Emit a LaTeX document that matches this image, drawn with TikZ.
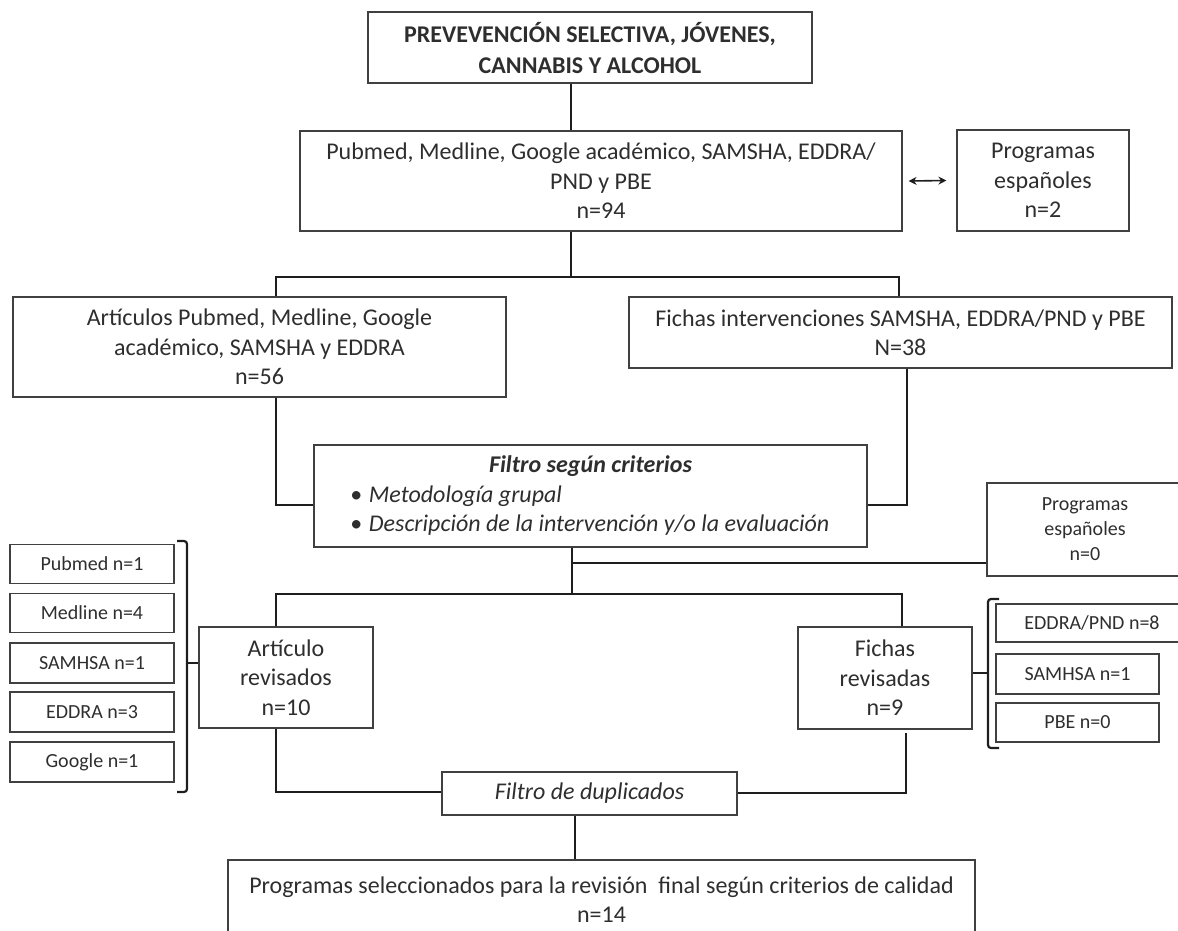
\documentclass[tikz,border=0pt]{standalone}
\usepackage{fontspec}
\setmainfont{Carlito}
\usetikzlibrary{arrows.meta}
\definecolor{txt}{HTML}{2E2E2E}
\definecolor{edge}{HTML}{404040}
\definecolor{lin}{HTML}{1E1E1E}
\begin{document}
\begin{tikzpicture}[x=1pt,y=-1pt,
  box/.style={draw=edge, line width=1.2pt, inner sep=0pt, align=center, text=txt, font=\fontsize{24}{29.5}\selectfont},
  sbox/.style={box, font=\fontsize{20}{25}\selectfont},
  conn/.style={draw=lin, line width=2.8pt},
  brk/.style={draw=lin, line width=2.2pt, rounded corners=3pt}]
\useasboundingbox (0,0) rectangle (1178,930);

% main boxes
\node[box, minimum width=444pt, minimum height=71pt, font=\fontsize{24}{31}\selectfont\bfseries] (title) at (590,47.5)
  {PREVEVENCIÓN SELECTIVA, JÓVENES,\\CANNABIS Y ALCOHOL};
\node[box, minimum width=602pt, minimum height=100pt] (src) at (601,181)
  {Pubmed, Medline, Google académico, SAMSHA, EDDRA/\\PND y PBE\\n=94};
\node[box, minimum width=172pt, minimum height=101pt] (esp2) at (1043,180.5)
  {Programas\\españoles\\n=2};
\node[box, minimum width=493pt, minimum height=100pt] (art) at (259.5,347)
  {Artículos Pubmed, Medline, Google\\académico, SAMSHA y EDDRA\\n=56};
\node[box, minimum width=543pt, minimum height=71pt] (fich) at (900.5,332.5)
  {Fichas intervenciones SAMSHA, EDDRA/PND y PBE\\N=38};
\node[box, minimum width=553pt, minimum height=102pt] (filt) at (590.5,496)
  {{\bfseries\itshape Filtro según criterios}\\
   \makebox[481pt][l]{\itshape •\hspace{7pt}Metodología grupal}\\
   \makebox[481pt][l]{\itshape •\hspace{7pt}Descripción de la intervención y/o la evaluación}};
\node[sbox, minimum width=196pt, minimum height=93pt] (esp0) at (1085,529.5)
  {Programas\\españoles\\n=0};
\node[box, minimum width=174pt, minimum height=101pt] (arev) at (286,677.5)
  {Artículo\\revisados\\n=10};
\node[box, minimum width=174pt, minimum height=102pt] (frev) at (885,678)
  {Fichas\\revisadas\\n=9};
\node[box, minimum width=295pt, minimum height=43pt, font=\fontsize{24}{29.5}\selectfont\itshape] (dup) at (589.5,793.5)
  {Filtro de duplicados};
\node[box, minimum width=747pt, minimum height=79pt] (final) at (601.5,899.5)
  {Programas seleccionados para la revisión\ \ final según criterios de calidad\\n=14};

% left sub boxes
\node[sbox, minimum width=164pt, minimum height=39pt] (pub) at (92,564) {Pubmed n=1};
\node[sbox, minimum width=164pt, minimum height=39pt] (med) at (92,613) {Medline n=4};
\node[sbox, minimum width=164pt, minimum height=40pt] (sam) at (92,663) {SAMHSA n=1};
\node[sbox, minimum width=164pt, minimum height=40pt] (edd) at (92,712) {EDDRA n=3};
\node[sbox, minimum width=164pt, minimum height=40pt] (goo) at (92,762) {Google n=1};

% right sub boxes
\node[sbox, minimum width=192pt, minimum height=38pt] (pnd) at (1092,623) {EDDRA/PND n=8};
\node[sbox, minimum width=163pt, minimum height=40pt] (sam2) at (1077.5,674) {SAMHSA n=1};
\node[sbox, minimum width=163pt, minimum height=39pt] (pbe) at (1077.5,722.5) {PBE n=0};

% arrow
\draw[lin, line width=1.6pt, {Stealth[length=8pt,width=8pt]}-{Stealth[length=8pt,width=8pt]}]
  ([xshift=6pt]src.east) -- ([xshift=-10pt]esp2.west);

% junctions
\coordinate (j1) at (571,277);
\coordinate (jA) at (276,277);
\coordinate (jF) at (899,277);
\coordinate (kA) at (276,505);
\coordinate (kF) at (907,505);
\coordinate (j2) at (572,594);
\coordinate (j3) at (572,563);
\coordinate (jL) at (276,594);
\coordinate (jR) at (902,594);
\coordinate (mL) at (276,792);
\coordinate (mR) at (906,793);
\coordinate (j4) at (575,0);

\draw[conn] (title.south -| j1) -- (src.north -| j1);
\draw[conn] (src.south -| j1) -- (j1);
\draw[conn] (art.north -| jA) -- (jA) -- (jF) -- (fich.north -| jF);
\draw[conn] (art.south -| kA) -- (kA) -- (kA -| filt.west);
\draw[conn] (fich.south -| kF) -- (kF) -- (kF -| filt.east);
\draw[conn] (filt.south -| j2) -- (j2);
\draw[conn] (j3) -- (j3 -| esp0.west);
\draw[conn] (arev.north -| jL) -- (jL) -- (jR) -- (frev.north -| jR);
\draw[conn] (arev.south -| mL) -- (mL) -- (mL -| dup.west);
\draw[conn] ([yshift=-3pt]frev.south -| mR) -- (mR) -- (mR -| dup.east);
\draw[conn] (dup.south -| j4) -- (final.north -| j4);

% brackets
\coordinate (lb) at (187,663);
\draw[brk] (177,541) -- (187,541) -- (lb) -- (187,792) -- (177,792);
\draw[conn, line width=2.2pt] (lb) -- (lb -| arev.west);
\coordinate (rb) at (988,673);
\draw[brk] (999,599) -- (988,599) -- (rb) -- (988,748) -- (999,748);
\draw[conn, line width=2.2pt] (rb) -- (rb -| frev.east);
\end{tikzpicture}
\end{document}
